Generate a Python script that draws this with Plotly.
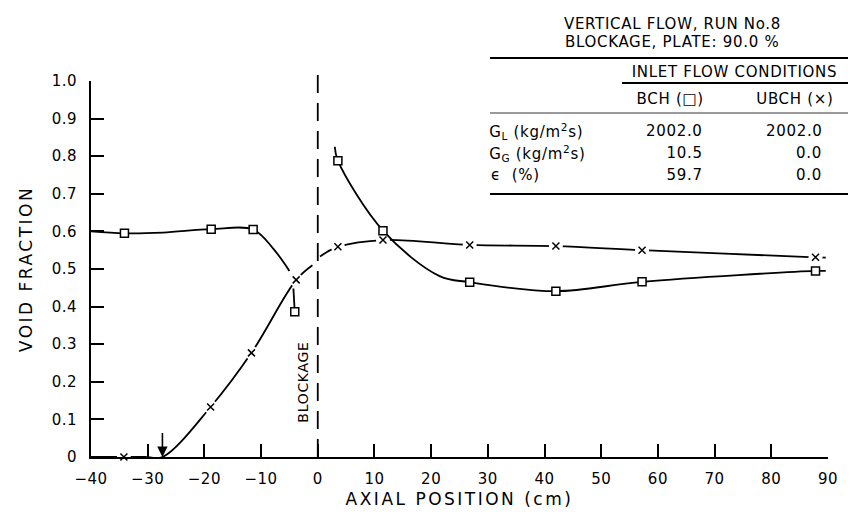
import plotly.graph_objects as go

# ---------------- data ----------------
# BCH (squares) measured points
bch_x = [-34.1, -18.8, -11.4, -4.06, 3.55, 11.5, 26.8, 42.0, 57.2, 87.8]
bch_y = [0.595, 0.606, 0.605, 0.386, 0.788, 0.602, 0.465, 0.441, 0.466, 0.495]
# BCH fitted curve nodes (None = break)
bch_cx = [-40, -34.1, -27.3, -18.8, -11.4, -7.9, -5.0, None, -4.3, -4.06, None,
          3.0, 3.55, 11.5, 21.5, 26.8, 42.0, 57.2, 87.8, 89.6]
bch_cy = [0.600, 0.595, 0.597, 0.606, 0.605, 0.555, 0.495, None, 0.448, 0.386, None,
          0.825, 0.788, 0.602, 0.481, 0.465, 0.441, 0.466, 0.495, 0.495]

# UBCH (crosses) measured points
ubch_x = [-34.2, -18.9, -11.7, -3.81, 3.55, 11.5, 26.8, 42.0, 57.2, 87.8]
ubch_y = [0.0, 0.133, 0.277, 0.471, 0.559, 0.577, 0.564, 0.561, 0.550, 0.531]
# UBCH fitted curve nodes (None = break at blockage line)
ubch_cx = [-40, -30.5, -27.4, -18.9, -11.7, -3.81, -0.94, None, 0.4, 1.7, 3.55, 11.5,
           26.8, 42.0, 57.2, 87.8, 89.6]
ubch_cy = [0.0, 0.0, 0.0, 0.133, 0.277, 0.471, 0.510, None, 0.533, 0.546, 0.559,
           0.577, 0.564, 0.561, 0.550, 0.531, 0.530]

onset_x = -27.4          # arrow marking onset of voids (UBCH)
blockage_x = 0.0

x_ticks = list(range(-40, 91, 10))
x_tick_text = [("\u2212" + str(-v)) if v < 0 else str(v) for v in x_ticks]
y_ticks = [i / 10 for i in range(11)]
y_tick_text = ["0"] + ["%.1f" % v for v in y_ticks[1:]]

table_title = ["VERTICAL FLOW, RUN No.8", "BLOCKAGE, PLATE: 90.0 %"]
table_header = "INLET FLOW CONDITIONS"
col_heads = ["BCH (\u25a1)", "UBCH (\u00d7)"]
row_labels = ["G<sub>L</sub> (kg/m<sup>2</sup>s)", "G<sub>G</sub> (kg/m<sup>2</sup>s)", "\u03f5  (%)"]
bch_vals = ["2002.0", "10.5", "59.7"]
ubch_vals = ["2002.0", "0.0", "0.0"]

# ---------------- layout geometry ----------------
W, H = 850, 519
L, R, T, B = 91, 22, 81, 62
PW, PH = W - L - R, H - T - B

def px(xp):
    return (xp - L) / PW

def py(yp):
    return (H - B - yp) / PH

FONT = "DejaVu Sans"
fig = go.Figure()

fig.add_trace(go.Scatter(x=ubch_cx, y=ubch_cy, mode="lines",
                         line=dict(color="black", width=1.8, shape="spline", smoothing=1),
                         connectgaps=False, hoverinfo="skip", showlegend=False))
# white halos to break the UBCH line at its markers
fig.add_trace(go.Scatter(x=ubch_x, y=ubch_y, mode="markers",
                         marker=dict(symbol="circle", size=14, color="white", line=dict(width=0)),
                         cliponaxis=False, hoverinfo="skip", showlegend=False))
fig.add_trace(go.Scatter(x=bch_cx, y=bch_cy, mode="lines",
                         line=dict(color="black", width=1.8, shape="spline", smoothing=1),
                         connectgaps=False, hoverinfo="skip", showlegend=False))
fig.add_trace(go.Scatter(x=bch_x, y=bch_y, mode="markers", name="BCH",
                         marker=dict(symbol="square", size=8, color="white",
                                     line=dict(color="black", width=1.5)),
                         cliponaxis=False, showlegend=False))
fig.add_trace(go.Scatter(x=ubch_x, y=ubch_y, mode="markers", name="UBCH",
                         marker=dict(symbol="x-thin", size=7,
                                     line=dict(color="black", width=1.5)),
                         cliponaxis=False, showlegend=False))

# blockage dashed line
fig.add_shape(type="line", xref="x", yref="paper", x0=blockage_x, x1=blockage_x,
              y0=0, y1=py(65), line=dict(color="black", width=1.8, dash="18px,10px"))
fig.add_annotation(x=-2.6, y=0.2, text="BLOCKAGE", textangle=-90, showarrow=False,
                   font=dict(family=FONT, size=14, color="black"))
# onset arrow
fig.add_annotation(x=onset_x, y=0, ax=onset_x, ay=0.068, axref="x", ayref="y",
                   text="", showarrow=True, arrowhead=2, arrowsize=1.3, arrowwidth=1.6,
                   arrowcolor="black", standoff=0, startstandoff=0)

# ---------------- inset table ----------------
tf = dict(family=FONT, size=15, color="black")
for txt, yp in zip(table_title, [24, 42]):
    fig.add_annotation(xref="paper", yref="paper", x=px(672), y=py(yp), text=txt,
                       showarrow=False, font=tf, xanchor="center", yanchor="middle")
fig.add_annotation(xref="paper", yref="paper", x=px(734), y=py(72), text=table_header,
                   showarrow=False, font=tf, xanchor="center", yanchor="middle")
for txt, xp in zip(col_heads, [670, 795]):
    fig.add_annotation(xref="paper", yref="paper", x=px(xp), y=py(99), text=txt,
                       showarrow=False, font=tf, xanchor="center", yanchor="middle")
for lab, bv, uv, yp in zip(row_labels, bch_vals, ubch_vals, [131, 153, 175]):
    fig.add_annotation(xref="paper", yref="paper", x=px(491), y=py(yp), text=lab,
                       showarrow=False, font=tf, xanchor="left", yanchor="middle")
    fig.add_annotation(xref="paper", yref="paper", x=px(703), y=py(yp), text=bv,
                       showarrow=False, font=tf, xanchor="right", yanchor="middle")
    fig.add_annotation(xref="paper", yref="paper", x=px(823), y=py(yp), text=uv,
                       showarrow=False, font=tf, xanchor="right", yanchor="middle")
for x0p, yp, w in [(490, 58, 1.8), (622, 83, 1.8), (490, 113, 0.8), (490, 194, 1.8)]:
    fig.add_shape(type="line", xref="paper", yref="paper", x0=px(x0p), x1=px(848),
                  y0=py(yp), y1=py(yp), line=dict(color="black", width=w))

axis_common = dict(showgrid=False, zeroline=False, showline=True, linecolor="black",
                   linewidth=2, ticks="inside", ticklen=13, tickwidth=1.5,
                   tickcolor="black", tickfont=dict(family=FONT, size=15, color="black"))
fig.update_xaxes(range=[-40, 90], tickvals=x_ticks, ticktext=x_tick_text,
                 ticklabelstandoff=7,
                 title=dict(text="AXIAL POSITION (cm)", standoff=6,
                            font=dict(family=FONT, size=17, color="black")),
                 **axis_common)
fig.update_yaxes(range=[0, 1.0], tickvals=y_ticks, ticktext=y_tick_text,
                 ticklabelstandoff=9,
                 title=dict(text="VOID FRACTION", standoff=16,
                            font=dict(family=FONT, size=17, color="black")),
                 **axis_common)

fig.update_layout(width=W, height=H, margin=dict(l=L, r=R, t=T, b=B),
                  paper_bgcolor="white", plot_bgcolor="white", showlegend=False)

# widen letter spacing like the stencil lettering of the original
post = """
document.querySelectorAll('.xtitle, .ytitle').forEach(function(t){t.style.letterSpacing='2.5px';});
document.querySelectorAll('.annotation-text').forEach(function(t){t.style.letterSpacing='0.7px';});
document.querySelectorAll('.xtick text, .ytick text').forEach(function(t){t.style.letterSpacing='0.5px';});
"""
fig.write_html("out.html", post_script=post)
